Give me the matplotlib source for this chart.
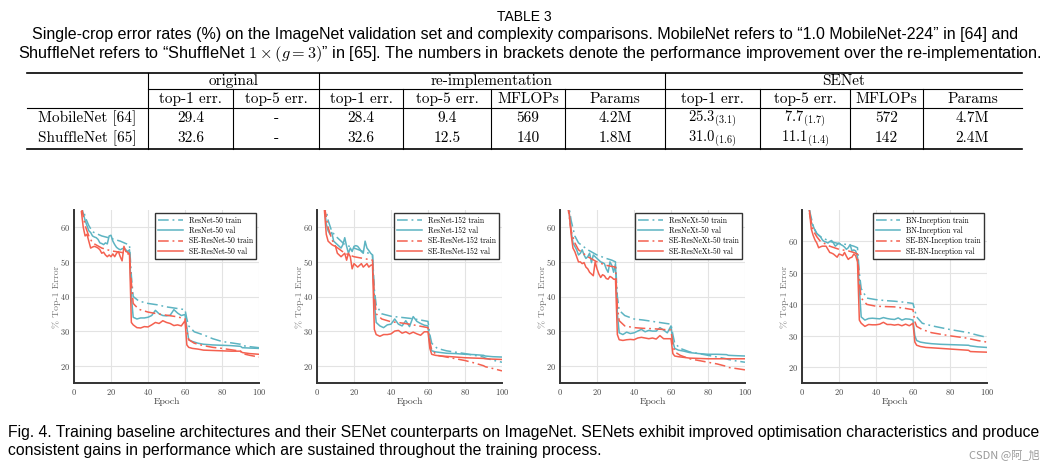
import matplotlib
matplotlib.use('Agg')
from matplotlib import pyplot as plt
from matplotlib.lines import Line2D

plt.rcParams['mathtext.fontset'] = 'cm'
plt.rcParams['axes.formatter.use_mathtext'] = True

# ---- table data ----
groups = ['original', 're-implementation', 'SENet']
sub_headers = ['top-1 err.', 'top-5 err.', 'top-1 err.', 'top-5 err.', 'MFLOPs', 'Params',
               'top-1 err.', 'top-5 err.', 'MFLOPs', 'Params']
models = ['MobileNet [64]', 'ShuffleNet [65]']
mobilenet_row = ['29.4', '-', '28.4', '9.4', '569', '4.2M',
                 r'$25.3_{(3.1)}$', r'$7.7_{(1.7)}$', '572', '4.7M']
shufflenet_row = ['32.6', '-', '32.6', '12.5', '140', '1.8M',
                  r'$31.0_{(1.6)}$', r'$11.1_{(1.4)}$', '142', '2.4M']

# ---- curve data (epoch, % top-1 error) ----
train_ep = [4, 6, 8, 10, 15, 20, 25, 28, 30, 31, 32, 35, 40, 45, 50, 55, 60,
            61, 62, 65, 70, 75, 80, 85, 90, 91, 95, 100]
val_ep = [4, 5, 6, 7, 8, 9, 10, 11, 12, 13, 14, 15, 16, 17, 18, 19, 20, 21, 22, 23, 24, 25, 26, 27, 28, 29, 30, 31,
          32, 34, 36, 38, 40, 42, 44, 46, 48, 50, 52, 54, 56, 58, 60,
          61, 62, 64, 67, 70, 75, 80, 85, 90, 91, 95, 100]

r50_train = [68, 63, 60.5, 58.7, 57.5, 56.8, 56, 55.3, 54.9, 46, 40, 38.7, 38, 37.6, 37, 36.6, 36.2,
             33.5, 31.5, 29.8, 28.9, 27.8, 27, 26.6, 26.2, 25.8, 25.5, 25.2]
r50_val = [66, 64, 62, 60.5, 59, 58.5, 57.5, 57.2, 57, 56.5, 55.5, 55.3, 55, 55.5, 55.2, 57.5, 57.7, 56, 55, 54.2,
           53.8, 53.5, 53.8, 54, 53.5, 53, 53.5, 40,
           34, 33.5, 33.8, 33.8, 34, 34.5, 36, 35, 34.5, 34.4, 34.6, 36.2, 35.2, 34.5, 34.8,
           31, 27.5, 27, 26.5, 26.2, 26, 25.9, 25.8, 25.6, 25.2, 25.1, 25]
se_r50_train = [66, 60.5, 57.5, 55.5, 54, 53.2, 52.8, 52.5, 52.2, 44, 38, 36.3, 35.5, 35, 34.6, 34.2, 33.6,
                30, 27.5, 26.5, 25.8, 25.3, 25, 24.6, 24.2, 23.5, 23, 22.5]
se_r50_val = [64.5, 60, 57.5, 58, 56, 54, 54.3, 54.5, 54.3, 54, 53.5, 52.5, 52.8, 52, 51.5, 52, 51.5, 52.3, 51.5, 52.5,
              53, 51.5, 50.3, 54.5, 53, 52.8, 52.3, 32.5,
              31.8, 31, 30.9, 31.3, 31.2, 31.8, 32.5, 32.2, 33, 32.5, 32.2, 31.6, 31.8, 31.5, 33,
              26, 25.3, 25, 24.8, 24.5, 24.4, 24.3, 24.2, 24.2, 23.8, 23.5, 23.3]

r152_train = [68, 62, 58.8, 57.5, 55, 54, 53, 52.5, 52, 42, 37.5, 35, 34.3, 34, 33.7, 33.3, 32.8,
              29, 26.5, 25, 24.3, 23.9, 23.5, 23, 22.5, 22.2, 21.6, 21]
r152_val = [66, 61, 59, 58, 58.5, 56, 55.5, 55, 54.5, 54, 55, 57, 54.5, 52.5, 54, 53, 54.5, 54.7, 54.5, 53.8,
            53, 52.5, 56, 54, 53.3, 52.5, 52, 38,
            32.5, 31.5, 31, 31.8, 32, 33.5, 32, 31.5, 33, 31.3, 34.2, 32.8, 32.2, 31.7, 31.5,
            26, 24.3, 24, 23.8, 23.6, 23.5, 23.3, 23.2, 23, 22.8, 22.6, 22.5]
se_r152_train = [66, 60, 56.5, 54.5, 52.5, 51.5, 51, 50.7, 50.5, 40, 35, 33.5, 32.7, 32.4, 32, 31.5, 31,
                 27, 24.5, 23, 22.5, 22, 21.5, 20.8, 20, 19.7, 19.2, 18.5]
se_r152_val = [65, 58, 56, 55.5, 55, 54.7, 54.5, 52.5, 52, 51.5, 52, 52.5, 50.5, 52.5, 51.5, 48, 49.5, 49, 48.5, 49,
               49.5, 48.5, 49, 49.5, 48.5, 49, 49.2, 30.5,
               29, 28.5, 29, 29, 29.2, 30, 30.2, 29.4, 29.8, 29.2, 29.7, 29.2, 28.8, 29.8, 29.8,
               25, 23.3, 23, 22.8, 22.7, 22.5, 22.3, 22.2, 22.1, 22, 21.9, 21.8]

rx_train = [69, 62, 57.5, 55.5, 53.5, 52, 51, 50.5, 50, 40, 36, 34.5, 33.5, 33.2, 32.8, 32.4, 32,
            29, 26.5, 25, 24, 23.5, 23, 22.5, 22, 21.8, 21.4, 21]
rx_val = [67, 64, 59, 55.5, 54.5, 53.5, 52, 52.5, 53.5, 52, 51, 51.5, 52.5, 49.8, 52, 51.5, 51, 50.5, 50, 49.8,
          49.5, 48, 47, 50, 49, 47, 49.5, 35,
          29.5, 29, 29.7, 29.3, 29.5, 30, 30.5, 29.8, 30.2, 30, 30, 31, 30.3, 29.5, 31.5,
          27, 25, 24.5, 24.2, 23.8, 23.5, 23.3, 23.3, 23.2, 23, 22.9, 22.8]
se_rx_train = [67, 59, 55.5, 53.5, 51.5, 50, 49, 48.7, 48.5, 37, 33, 31.5, 31, 30.8, 30.7, 30.5, 30.3,
               26, 24, 23, 22, 21.5, 21, 20.5, 19.8, 19.5, 19.2, 18.8]
se_rx_val = [67, 64, 58, 54, 53, 51.5, 50, 50, 49.5, 49.8, 48.5, 48, 47, 46.5, 46, 50, 48, 46.5, 45.5, 46.3,
             46, 45.2, 45, 45.8, 45.5, 45, 45, 29,
             27.5, 27.3, 27.5, 27.6, 27.5, 28, 28.2, 28, 27.8, 28, 27.7, 28.7, 27.8, 27.8, 27.8,
             23.5, 22.8, 22.6, 22.4, 22.2, 22.1, 22, 22, 22, 22, 22, 22]

bn_train = [70, 65, 62.5, 61.5, 60, 59.3, 59, 58.5, 58, 50, 45, 42, 41.5, 41.2, 41, 40.7, 40.3,
            38, 36, 34, 33.2, 32.6, 32, 31.5, 31, 30.8, 30.2, 29.5]
bn_val = [70, 66, 65, 63.5, 62.5, 62, 61.5, 60.5, 60, 59.8, 59.5, 60, 60.3, 59.5, 58.5, 59, 59.5, 59, 58.7, 58.2,
          57.5, 58, 59, 57, 57.3, 57, 55, 45,
          36, 35, 35.5, 35.6, 35.5, 35.4, 35.8, 35.5, 35.3, 35.2, 35.7, 35, 35.4, 35.3, 35,
          30, 28.5, 28, 27.7, 27.5, 27.3, 27.2, 27.1, 27, 26.8, 26.5, 26.3]
se_bn_train = [69, 63.5, 61.5, 60, 58.5, 57.5, 57, 56.5, 56, 47, 42, 40, 39.4, 39.3, 39.2, 38.8, 38.3,
               34.5, 33, 32, 31, 30.5, 30, 29.6, 29.2, 29, 28.5, 28]
se_bn_val = [70, 64, 62, 60.5, 59.5, 58, 58.3, 58.5, 58.5, 58.5, 57.5, 56.5, 56.3, 56, 55.5, 55, 56, 55.8, 55.5, 56.5,
             55.3, 54.3, 54.8, 55, 56, 55.5, 53.5, 35,
             34, 33, 33.6, 33.5, 33.5, 33.7, 34.3, 33.6, 33.6, 33.4, 33.6, 33.2, 33.7, 33.2, 34,
             28, 27, 26.6, 26.3, 26.2, 26, 25.8, 25.6, 25.4, 25, 24.9, 24.8]

panels = [
    ('ResNet-50', r50_train, r50_val, se_r50_train, se_r50_val, 65),
    ('ResNet-152', r152_train, r152_val, se_r152_train, se_r152_val, 65),
    ('ResNeXt-50', rx_train, rx_val, se_rx_train, se_rx_val, 65),
    ('BN-Inception', bn_train, bn_val, se_bn_train, se_bn_val, 70),
]

W, H = 1049, 471
fig = plt.figure(figsize=(W / 100, H / 100), dpi=100)


def fx(x):
    return x / W


def fy(y):
    return 1 - y / H


def hline(y, x0, x1, lw=0.8):
    fig.add_artist(Line2D([fx(x0), fx(x1)], [fy(y), fy(y)], transform=fig.transFigure, color='black', lw=lw))


def vline(x, y0, y1, lw=0.8):
    fig.add_artist(Line2D([fx(x), fx(x)], [fy(y0), fy(y1)], transform=fig.transFigure, color='black', lw=lw))


# ---- title and caption of the table ----
sans = 'Liberation Sans'
fig.text(fx(524), fy(17), 'TABLE 3', ha='center', va='center', fontsize=10, family=sans)
fig.text(fx(525), fy(35), 'Single-crop error rates (%) on the ImageNet validation set and complexity comparisons. '
         'MobileNet refers to \u201c1.0 MobileNet-224\u201d in [64] and',
         ha='center', va='center', fontsize=11.55, family=sans)
fig.text(fx(530), fy(54), 'ShuffleNet refers to \u201cShuffleNet $1\\times(g=3)$\u201d in [65]. '
         'The numbers in brackets denote the performance improvement over the re-implementation.',
         ha='center', va='center', fontsize=11.7, family=sans)

# ---- table ----
edges = [27, 148, 233, 319, 403, 491, 565, 665, 760, 850, 923, 1022]
serif = 'cmr10'
tsize = 11
hline(73, edges[0], edges[-1], lw=1.2)
hline(89, edges[1], edges[-1])
hline(108, edges[0], edges[-1])
hline(149, edges[0], edges[-1], lw=1.2)
for x in [edges[1], edges[3], edges[7]]:
    vline(x, 73, 149)
for x in [edges[2], edges[4], edges[5], edges[6], edges[8], edges[9], edges[10]]:
    vline(x, 89, 149)

group_spans = [(1, 3), (3, 7), (7, 11)]
for name, (a, b) in zip(groups, group_spans):
    fig.text(fx((edges[a] + edges[b]) / 2), fy(81), name, ha='center', va='center', fontsize=tsize, family=serif)
for i, h in enumerate(sub_headers):
    fig.text(fx((edges[i + 1] + edges[i + 2]) / 2), fy(99), h, ha='center', va='center',
             fontsize=tsize, family=serif)
for row_y, name, row in [(118, models[0], mobilenet_row), (138, models[1], shufflenet_row)]:
    fig.text(fx((edges[0] + edges[1]) / 2), fy(row_y), name, ha='center', va='center', fontsize=tsize, family=serif)
    for i, v in enumerate(row):
        is_math = v.startswith('$')
        fig.text(fx((edges[i + 1] + edges[i + 2]) / 2), fy(row_y + (1 if is_math else 0)), v,
                 ha='center', va='center', fontsize=10.5 if is_math else tsize, family=serif)

# ---- training curves ----
teal = '#5DB4C2'
red = '#F4604F'
dashdot = (0, (7, 2.5, 1.2, 2.5))
ax_lefts = [74, 317, 560, 802]
for left, (name, tr, va, se_tr, se_va, ytop) in zip(ax_lefts, panels):
    ax = fig.add_axes([fx(left), fy(383), 185 / W, 173 / H])
    ax.plot(train_ep, tr, color=teal, lw=1.1, linestyle=dashdot, label=name + ' train')
    ax.plot(val_ep, va, color=teal, lw=1.1, label=name + ' val')
    ax.plot(train_ep, se_tr, color=red, lw=1.1, linestyle=dashdot, label='SE-' + name + ' train')
    ax.plot(val_ep, se_va, color=red, lw=1.1, label='SE-' + name + ' val')
    ax.set_xlim(0, 100)
    ax.set_ylim(15, ytop)
    ax.set_xticks([0, 20, 40, 60, 80, 100])
    ax.set_yticks([20, 30, 40, 50, 60])
    ax.grid(True, color='#e3e3e3', lw=0.8)
    ax.set_axisbelow(True)
    for s in ['top', 'right']:
        ax.spines[s].set_visible(False)
    for s in ['left', 'bottom']:
        ax.spines[s].set_color('#333333')
        ax.spines[s].set_linewidth(1.4)
    ax.tick_params(length=0, labelsize=6, labelcolor='#444444', pad=3)
    for lab in ax.get_xticklabels() + ax.get_yticklabels():
        lab.set_family(serif)
    ax.set_xlabel('Epoch', fontsize=7, family=serif, color='#444444', labelpad=0)
    ax.set_ylabel('% Top-1 Error', fontsize=7, family=serif, color='#777777', labelpad=-1)
    leg = ax.legend(loc='upper right', prop={'family': serif, 'size': 5.5}, fancybox=False,
                    framealpha=1, edgecolor='#333333', borderpad=0.4, handlelength=3.2,
                    labelspacing=0.25, borderaxespad=0.4)
    leg.get_frame().set_linewidth(1.0)

# ---- figure caption ----
fig.text(fx(8), fy(433), 'Fig. 4. Training baseline architectures and their SENet counterparts on ImageNet. '
         'SENets exhibit improved optimisation characteristics and produce',
         ha='left', va='center', fontsize=11.3, family=sans)
fig.text(fx(8), fy(451), 'consistent gains in performance which are sustained throughout the training process.',
         ha='left', va='center', fontsize=11.3, family=sans)
fig.text(fx(1040), fy(455), 'CSDN @阿_旭', ha='right', va='center', fontsize=8, color='#999999',
         family=['Noto Sans CJK SC', 'DejaVu Sans'])

fig.savefig('out.png', dpi=100)
